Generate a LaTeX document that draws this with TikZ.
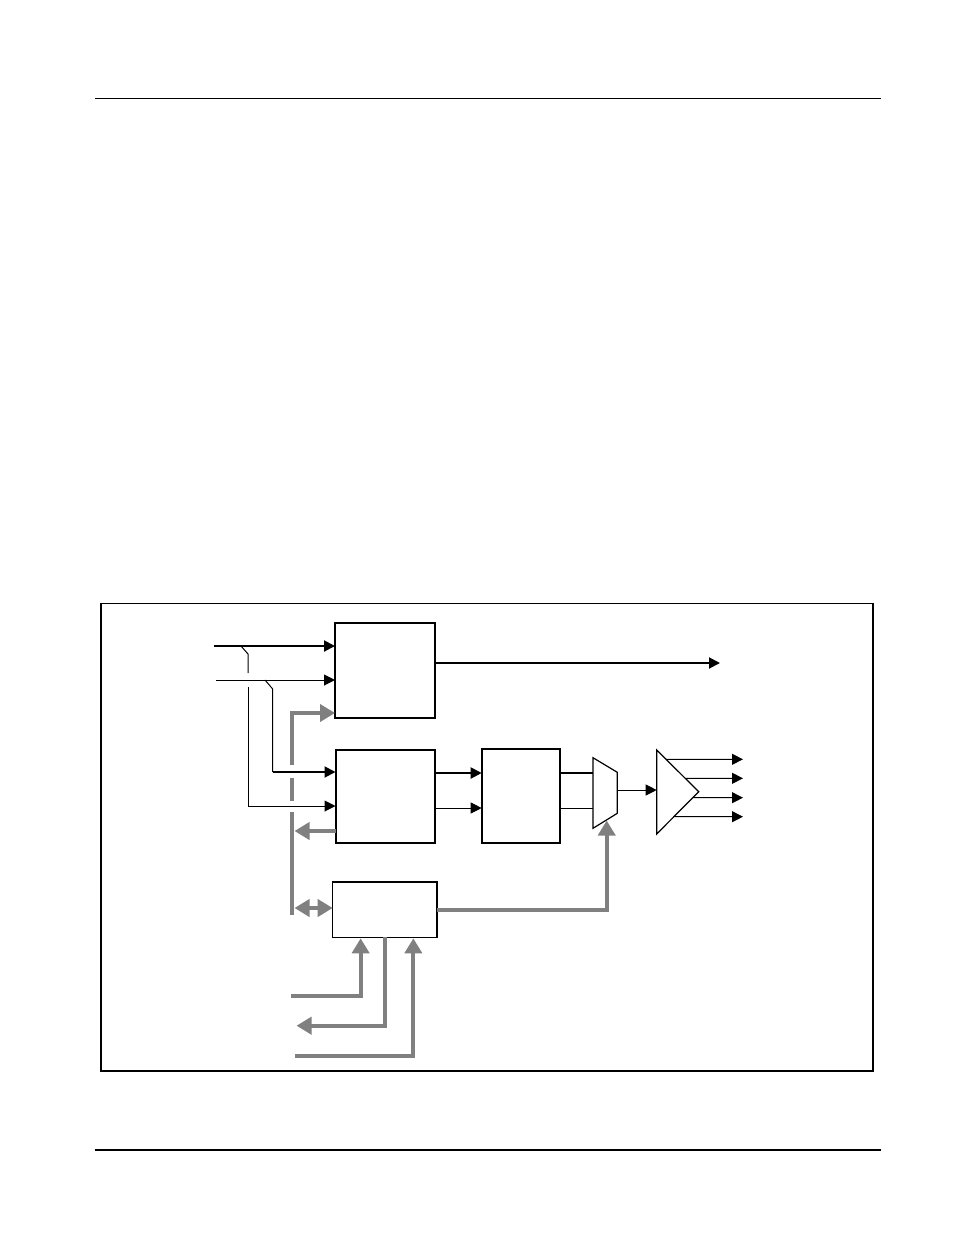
\documentclass[tikz,border=0pt]{standalone}
\usepackage{xcolor}
\usepackage{tikz}
\usetikzlibrary{arrows.meta,calc,positioning}

\begin{document}
\begin{tikzpicture}[x=1pt,y=-1pt,
	blk/.style={draw,line width=2pt,inner sep=0pt,outer sep=0pt},
	sigthin/.style={line width=1pt,-{Triangle[length=11pt,width=11pt]}},
	sigthick/.style={line width=2pt,-{Triangle[length=11pt,width=11pt]}},
	busline/.style={draw=gray,line width=4pt},
	busarrow/.style={busline,-{Triangle[length=15pt,width=17pt]},color=gray}]
	\useasboundingbox (0,0) rectangle (954,1235);
	% page rules and frame
	\draw[line width=1.2pt] (95,98.5) -- (881,98.5);
	\draw[line width=1.2pt] (95,1150) -- (881,1150);
	\draw[line width=1pt] (100,603.5) -- (873,603.5);
	\draw[line width=2pt] (100.5,603) -- (100.5,1070.5) -- (873,1070.5) -- (873,603);
	% blocks
	\node[blk,minimum width=100pt,minimum height=95pt] (sw) at (385,670.5) {};
	\node[blk,minimum width=99.5pt,minimum height=93pt] (rx) at (385.25,796.5) {};
	\node[blk,minimum width=78.6pt,minimum height=94pt] (proc) at (521,796.3) {};
	\node[blk,line width=1.5pt,minimum width=104.3pt,minimum height=55.3pt] (ctl) at (384.85,909.65) {};
	% mux and driver
	\coordinate (mxA) at (593,757.7);
	\coordinate (mxB) at (617.3,772.3);
	\coordinate (mxC) at (617.3,813.3);
	\coordinate (mxD) at (593,828.3);
	\draw[line width=1.2pt,line join=miter] (mxA) -- (mxB) -- (mxC) -- (mxD) -- cycle;
	\coordinate (ampT) at (656.7,750);
	\coordinate (ampO) at (698.7,791.7);
	\coordinate (ampB) at (656.7,834);
	\draw[line width=1.2pt,line join=miter] (ampT) -- (ampO) -- (ampB) -- cycle;
	% inputs
	\coordinate (inA) at (214,646);
	\coordinate (inB) at (216,680);
	\draw[sigthick] (inA) -- (inA -| sw.west);
	\draw[sigthin] (inB) -- (inB -| sw.west);
	\draw[line width=1pt] (241,646) -- (248,654) -- (248,673);
	\draw[sigthin] (248,687) |- (rx.west |- 0,806);
	\draw[line width=1pt] (265,680) -- (272.7,689) -- (272.7,772);
	\draw[sigthick] (272.7,772) -- (rx.west |- 0,772);
	% gray bus
	\coordinate (busTop) at (291.7,713);
	\draw[busarrow] (291.7,765) -- (busTop) -- (busTop -| sw.west);
	\draw[busline] (291.7,778) -- (291.7,801);
	\draw[busline] (291.7,812) -- (291.7,915);
	\draw[busarrow] (rx.west |- 0,831) -- (294.5,831);
	\draw[busarrow,{Triangle[length=15pt,width=17pt]}-{Triangle[length=15pt,width=17pt]}] (294.5,908) -- (ctl.west |- 0,908);
	% outputs
	\coordinate (outA) at (720,663);
	\draw[sigthick] (sw.east |- outA) -- (outA);
	\draw[sigthick] (rx.east |- 0,773) -- (proc.west |- 0,773);
	\draw[sigthin] (rx.east |- 0,808) -- (proc.west |- 0,808);
	\draw[line width=2pt] (proc.east |- 0,773) -- (mxA |- 0,773);
	\draw[line width=1pt] (proc.east |- 0,808) -- (mxA |- 0,808);
	\draw[sigthin] (mxB |- 0,790) -- (ampT |- 0,790);
	\draw[sigthin] ($(ampT)!0.223!(ampO)$) -- (743,759.3);
	\draw[sigthin] ($(ampT)!0.679!(ampO)$) -- (743,778.3);
	\draw[sigthin] ($(ampO)!0.142!(ampB)$) -- (743,797.7);
	\draw[sigthin] ($(ampO)!0.591!(ampB)$) -- (743,816.7);
	% control lines
	\draw[busarrow] (ctl.east |- 0,910) -| (606.7,820.5);
	\draw[busarrow] (291,996) -| ($(ctl.south)+(-24.2,1)$);
	\draw[busarrow] (ctl.south) |- (296.5,1025.7);
	\draw[busarrow] (295,1055.7) -| ($(ctl.south)+(28.5,1)$);
\end{tikzpicture}
\end{document}
